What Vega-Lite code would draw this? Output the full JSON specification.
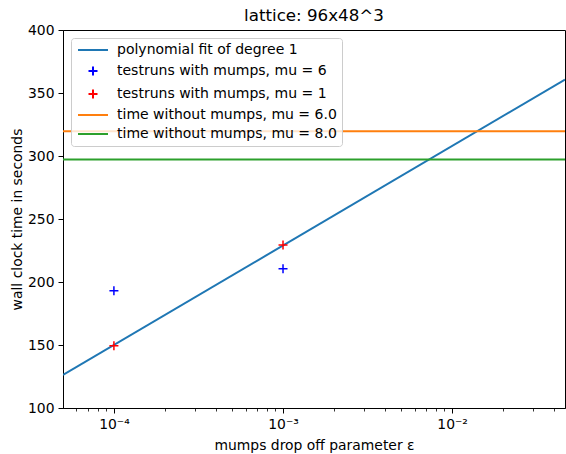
{
  "$schema": "https://vega.github.io/schema/vega-lite/v6.json",
  "autosize": "none",
  "width": 502,
  "height": 378,
  "padding": {"left": 63, "top": 30, "right": 1, "bottom": 46},
  "background": "white",
  "title": {"text": "lattice: 96x48^3", "fontSize": 16.7, "font": "DejaVu Sans", "fontWeight": "normal", "color": "black", "offset": 2, "dy": 4, "anchor": "middle"},
  "config": {
    "view": {"stroke": "black", "strokeWidth": 1},
    "font": "DejaVu Sans",
    "axis": {"grid": false, "domainColor": "black", "tickColor": "black", "labelColor": "black", "titleColor": "black", "labelFont": "DejaVu Sans", "titleFont": "DejaVu Sans", "labelFontSize": 13.9, "titleFontSize": 13.9, "titleFontWeight": "normal", "domainWidth": 1, "tickWidth": 1},
    "legend": {"labelFont": "DejaVu Sans", "labelFontSize": 14, "labelColor": "black", "labelLimit": 400}
  },
  "datasets": {
    "fit": [
      {"eps": 0.00005, "t": 126.2, "series": "polynomial fit of degree 1"},
      {"eps": 0.0465, "t": 360.7, "series": "polynomial fit of degree 1"}
    ],
    "runs": [
      {"eps": 0.0001, "t": 193, "series": "testruns with mumps, mu = 6"},
      {"eps": 0.001, "t": 210.5, "series": "testruns with mumps, mu = 6"},
      {"eps": 0.0001, "t": 149.5, "series": "testruns with mumps, mu = 1"},
      {"eps": 0.001, "t": 229.3, "series": "testruns with mumps, mu = 1"}
    ],
    "base": [
      {"t": 319.7, "series": "time without mumps, mu = 6.0"},
      {"t": 297.2, "series": "time without mumps, mu = 8.0"}
    ]
  },
  "layer": [
    {
      "data": {"name": "fit"},
      "mark": {"type": "line", "strokeWidth": 2, "clip": true},
      "encoding": {
        "x": {"field": "eps", "type": "quantitative",
          "scale": {"type": "log", "domain": [0.00005, 0.0465], "nice": false},
          "axis": {
            "title": "mumps drop off parameter ε",
            "values": [0.00006, 0.00007, 0.00008, 0.00009, 0.0001, 0.0002, 0.0003, 0.0004, 0.0005, 0.0006, 0.0007, 0.0008, 0.0009, 0.001, 0.002, 0.003, 0.004, 0.005, 0.006, 0.007, 0.008, 0.009, 0.01, 0.02, 0.03, 0.04],
            "labelExpr": "datum.value == 0.0001 ? '10⁻⁴' : datum.value == 0.001 ? '10⁻³' : datum.value == 0.01 ? '10⁻²' : ''",
            "tickSize": {"condition": {"test": "datum.value == 0.0001 || datum.value == 0.001 || datum.value == 0.01", "value": 5}, "value": 3},
            "tickWidth": {"condition": {"test": "datum.value == 0.0001 || datum.value == 0.001 || datum.value == 0.01", "value": 1}, "value": 0.8},
            "labelPadding": 4,
            "labelFlush": false,
            "labelOverlap": false,
            "titlePadding": 8
          }},
        "y": {"field": "t", "type": "quantitative",
          "scale": {"domain": [100, 400], "nice": false, "zero": false},
          "axis": {"title": "wall clock time in seconds", "values": [100, 150, 200, 250, 300, 350, 400], "tickSize": 5, "labelPadding": 4, "titlePadding": 3}},
        "color": {"field": "series", "type": "nominal",
          "scale": {"domain": ["polynomial fit of degree 1", "testruns with mumps, mu = 6", "testruns with mumps, mu = 1", "time without mumps, mu = 6.0", "time without mumps, mu = 8.0"],
                    "range": ["#1f77b4", "#0000ff", "#ff0000", "#ff7f0e", "#2ca02c"]},
          "legend": {"title": null, "orient": "top-left", "offset": 8, "padding": 5, "fillColor": "rgba(255,255,255,0.8)", "strokeColor": "#cccccc", "cornerRadius": 3, "symbolSize": 100, "symbolStrokeWidth": 2, "symbolOffset": 10, "labelOffset": 17, "rowPadding": 5}}
      }
    },
    {
      "data": {"name": "runs"},
      "mark": {"type": "point", "filled": false, "size": 100, "strokeWidth": 1.5, "opacity": 1},
      "encoding": {
        "x": {"field": "eps", "type": "quantitative"},
        "y": {"field": "t", "type": "quantitative"},
        "color": {"field": "series", "type": "nominal"},
        "shape": {"field": "series", "type": "nominal",
          "scale": {"domain": ["polynomial fit of degree 1", "testruns with mumps, mu = 6", "testruns with mumps, mu = 1", "time without mumps, mu = 6.0", "time without mumps, mu = 8.0"],
                    "range": ["M-3,0H3", "M-0.9,0H0.9M0,-0.9V0.9", "M-0.9,0H0.9M0,-0.9V0.9", "M-3,0H3", "M-3,0H3"]},
          "legend": {"title": null, "orient": "top-left", "offset": 8, "padding": 5, "fillColor": "rgba(255,255,255,0.8)", "strokeColor": "#cccccc", "cornerRadius": 3, "symbolSize": 100, "symbolStrokeWidth": 2, "symbolOffset": 10, "labelOffset": 17, "rowPadding": 5}}
      }
    },
    {
      "data": {"name": "base"},
      "mark": {"type": "rule", "strokeWidth": 2},
      "encoding": {
        "y": {"field": "t", "type": "quantitative"},
        "color": {"field": "series", "type": "nominal"}
      }
    }
  ]
}
